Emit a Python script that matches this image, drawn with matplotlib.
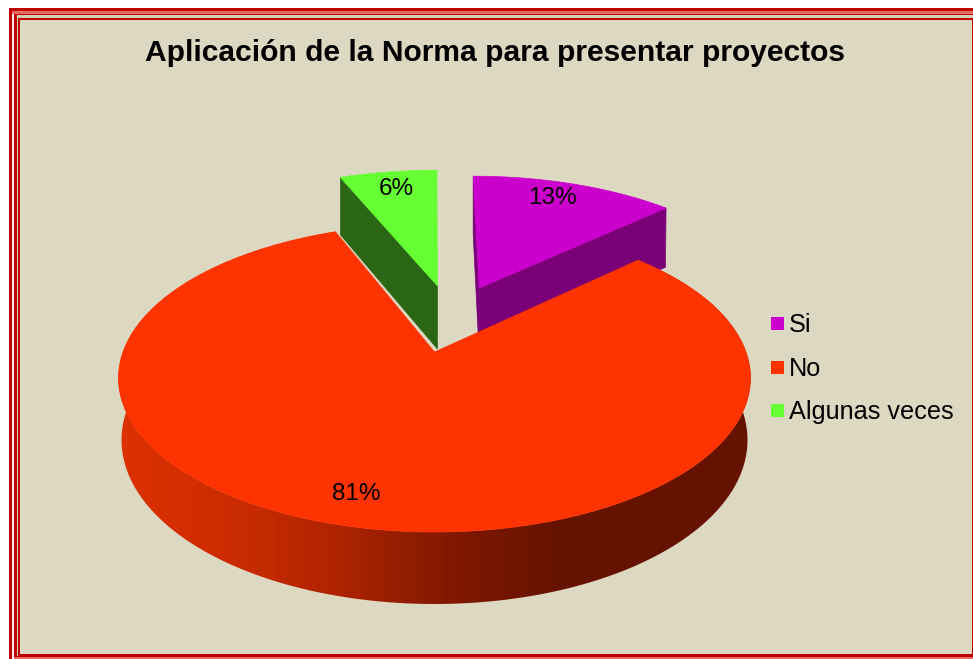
"""Exploded 3D pie: Aplicacion de la Norma para presentar proyectos."""

import matplotlib.pyplot as plt
import numpy as np
from matplotlib.colors import LinearSegmentedColormap
from matplotlib.patches import Polygon, Rectangle

plt.rcParams["font.family"] = ["Liberation Sans", "DejaVu Sans"]

TITLE = "Aplicación de la Norma para presentar proyectos"
categories = ["Si", "No", "Algunas veces"]
values = [13, 81, 6]

BG = "#DDD8C2"
TOP_COLORS = ["#CC00CC", "#FF3300", "#66FF33"]
SIDE_COLORS = ["#7A0078", None, "#2B6614"]

# pie plane in pixels: (cy, rx, ry, d), d lifts the apex off the ellipse centre
CX = 434.5
TOP = (378, 316, 154, 26)
FLOOR_MAIN = (440, 313, 164, 22)
FLOOR_CUT = (444, 313, 160, 26)
# how far each slice is pulled out, in disc units, and its radius
EXPLODE = [(0.155, 0.461), (0.0, 0.0), (0.01, 0.478)]
RADIUS = [1.005, 1.0, 1.05]

LABEL_POS = [(552, 198), (356, 494), (396, 189)]
LEG_Y = [325, 369, 412]
LEG_BOX_Y = [323, 367, 410]


def project(u, v, plane):
    """Perspective map of the unit disc onto an ellipse in pixel space."""
    cy, rx, ry, d = plane
    k = d / ry
    w = 1 + k * v
    return CX + rx * np.sqrt(1 - k**2) * u / w, cy - (ry * v + d) / w


def arc(a0, a1, off, r, plane, n=200):
    t = np.radians(np.linspace(a0, a1, n))
    return np.column_stack(project(r * np.sin(t) + off[0], r * np.cos(t) + off[1], plane))


def apex(off, plane):
    return np.array(project(off[0], off[1], plane))


fig = plt.figure(figsize=(9.73, 6.59), dpi=100)
ax = fig.add_axes([0, 0, 1, 1])
ax.set_xlim(0, 973)
ax.set_ylim(659, 0)
ax.axis("off")

# frame, outermost band first
fig.patch.set_facecolor("white")
for x0, y0, x1, y1, col in [
    (9, 8, 973, 659, "#C00000"),
    (12, 11, 973, 659, "#E46A6A"),
    (14, 14, 973, 657, "#C00000"),
    (17, 15, 973, 656, "#D6CDB6"),
    (18, 18, 973, 656, "#C00000"),
    (20, 20, 971.5, 654, BG),
]:
    ax.add_patch(Rectangle((x0, y0), x1 - x0, y1 - y0, fc=col, ec="none", zorder=0))
ax.add_patch(Rectangle((12, 14), 1.8, 645, fc="#F4EDEA", ec="none", zorder=0.5))

ends = np.cumsum(values) / np.sum(values) * 360
starts = np.concatenate([[0], ends[:-1]])

# cut faces of the two pulled-out slices
for idx, edge in [(0, ends[0]), (0, starts[0]), (2, starts[2])]:
    off = EXPLODE[idx]
    top_edge = arc(edge, edge, off, RADIUS[idx], TOP, n=1)
    floor_edge = arc(edge, edge, off, RADIUS[idx], FLOOR_CUT, n=1)
    pts = np.vstack([apex(off, TOP), top_edge, floor_edge, apex(off, FLOOR_CUT)])
    ax.add_patch(Polygon(pts, fc=SIDE_COLORS[idx], ec=SIDE_COLORS[idx], lw=0.5, zorder=1))

# rim of the big slice, shaded left to right
rim = np.vstack([
    arc(starts[1], ends[1], EXPLODE[1], RADIUS[1], TOP),
    arc(starts[1], ends[1], EXPLODE[1], RADIUS[1], FLOOR_MAIN)[::-1],
])
shade = LinearSegmentedColormap.from_list(
    "rim",
    [
        (0.00, "#DC3100"),
        (0.20, "#C82B00"),
        (0.34, "#B02400"),
        (0.49, "#8A1A00"),
        (0.58, "#781600"),
        (0.70, "#651300"),
        (1.00, "#651300"),
    ],
)
clip = Polygon(rim, transform=ax.transData, fc="none", ec="none")
ax.add_patch(clip)
img = ax.imshow(
    np.linspace(0, 1, 64)[None, :],
    cmap=shade,
    extent=(118, 751, 620, 200),
    aspect="auto",
    interpolation="nearest",
    zorder=2,
)
img.set_clip_path(clip)
ax.set_xlim(0, 973)
ax.set_ylim(659, 0)

# top faces
for i, (a0, a1) in enumerate(zip(starts, ends)):
    off = EXPLODE[i]
    pts = np.vstack([apex(off, TOP), arc(a0, a1, off, RADIUS[i], TOP)])
    ax.add_patch(Polygon(pts, fc=TOP_COLORS[i], ec=TOP_COLORS[i], lw=0.5, zorder=3))

for i, v in enumerate(values):
    x, y = LABEL_POS[i]
    ax.text(x, y, f"{v}%", ha="center", va="center", fontsize=17.5, color="black", zorder=5)

ax.text(495, 53, TITLE, ha="center", va="center", fontsize=21.6, fontweight="bold", color="black")

for name, col, y, by in zip(categories, TOP_COLORS, LEG_Y, LEG_BOX_Y):
    ax.add_patch(Rectangle((771, by - 6.5), 13, 13, fc=col, ec="none", zorder=3))
    ax.text(789, y, name, ha="left", va="center", fontsize=18.2, color="black")

fig.savefig("out.png", dpi=100, facecolor="white")
plt.close(fig)
